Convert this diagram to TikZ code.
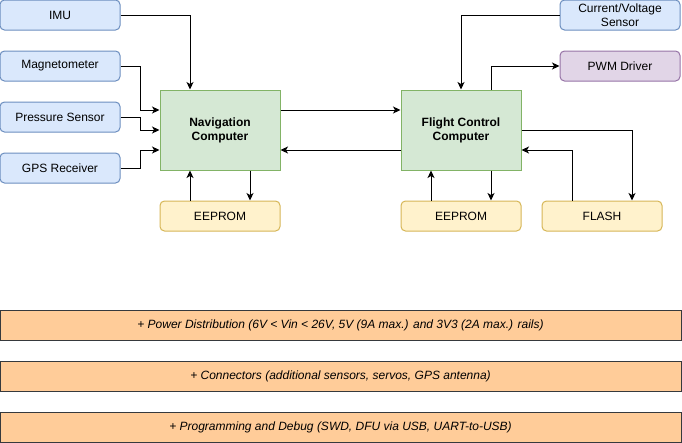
\documentclass[tikz,border=0pt]{standalone}
\usepackage{fontspec}
\setmainfont{Liberation Sans}
\usetikzlibrary{positioning,arrows.meta}
\usepackage{xcolor}

\definecolor{sensfill}{HTML}{DAE8FC}
\definecolor{sensline}{HTML}{6C8EBF}
\definecolor{compfill}{HTML}{D5E8D4}
\definecolor{compline}{HTML}{82B366}
\definecolor{memfill}{HTML}{FFF2CC}
\definecolor{memline}{HTML}{D6B656}
\definecolor{pwmfill}{HTML}{E1D5E7}
\definecolor{pwmline}{HTML}{9673A6}
\definecolor{barfill}{HTML}{FFCC99}
\definecolor{barline}{HTML}{36393D}

\begin{document}
\begin{tikzpicture}[x=1pt,y=-1pt,line width=1pt,->,>={Stealth[length=7.5pt,width=7pt,inset=2pt]},
	box/.style={draw,rounded corners=4.5pt,minimum width=120pt,minimum height=30pt,inner sep=0pt,align=center,font=\fontsize{12}{14}\selectfont},
	sensor/.style={box,fill=sensfill,draw=sensline},
	memory/.style={box,fill=memfill,draw=memline},
	driver/.style={box,fill=pwmfill,draw=pwmline},
	computer/.style={draw=compline,fill=compfill,minimum width=120pt,minimum height=80pt,inner sep=0pt,align=center,font=\fontsize{12}{14}\selectfont\bfseries},
	bar/.style={draw=barline,fill=barfill,minimum width=681pt,minimum height=30pt,inner sep=0pt,font=\fontsize{12}{14}\selectfont\itshape}]
		\useasboundingbox (0,0) rectangle (682,442);

		\node[sensor] (imu) at (60,15) {IMU};
		\node[sensor] (mag) [below=20pt of imu] {Magnetometer};
		\node[sensor] (press) [below=20pt of mag] {Pressure Sensor};
		\node[sensor] (gps) [below=20pt of press] {GPS Receiver};

		\node[computer] (nav) at (220,130) {Navigation\\Computer};
		\node[memory] (naveeprom) [below=30pt of nav] {EEPROM};
		\node[computer] (fcc) [right=120pt of nav] {Flight Control\\Computer};
		\node[memory] (fcceeprom) [below=30pt of fcc] {EEPROM};
		\node[memory] (flash) [right=20pt of fcceeprom] {FLASH};

		\node[sensor] (cvs) at (620,15) {Current/Voltage\\Sensor};
		\node[driver] (pwm) [below=20pt of cvs] {PWM Driver};

		\node[bar] (power) at (340.5,325) {+ Power Distribution (6V < Vin < 26V, 5V (9A max.) and 3V3 (2A max.) rails)};
		\node[bar] (conn) [below=20pt of power] {+ Connectors (additional sensors, servos, GPS antenna)};
		\node[bar] (prog) [below=20pt of conn] {+ Programming and Debug (SWD, DFU via USB, UART-to-USB)};

		\draw (imu.east) -| ([xshift=-30pt]nav.north);
		\draw (mag.east) -- ++(20,0) |- ([yshift=20pt]nav.west);
		\draw (press.east) -- ++(20,0) |- (nav.west);
		\draw (gps.east) -- ++(20,0) |- ([yshift=-20pt]nav.west);

		\draw ([xshift=-30pt]naveeprom.north) -- ([xshift=-30pt]nav.south);
		\draw ([xshift=30pt]nav.south) -- ([xshift=30pt]naveeprom.north);

		\draw ([yshift=20pt]nav.east) -- ([yshift=20pt]fcc.west);
		\draw ([yshift=-20pt]fcc.west) -- ([yshift=-20pt]nav.east);

		\draw (cvs.west) -| (fcc.north);
		\draw ([xshift=30pt]fcc.north) |- (pwm.west);

		\draw ([xshift=-30pt]fcceeprom.north) -- ([xshift=-30pt]fcc.south);
		\draw ([xshift=30pt]fcc.south) -- ([xshift=30pt]fcceeprom.north);

		\draw (fcc.east) -| ([xshift=30pt]flash.north);
		\draw ([xshift=-30pt]flash.north) |- ([yshift=-20pt]fcc.east);
		\end{tikzpicture}
\end{document}
